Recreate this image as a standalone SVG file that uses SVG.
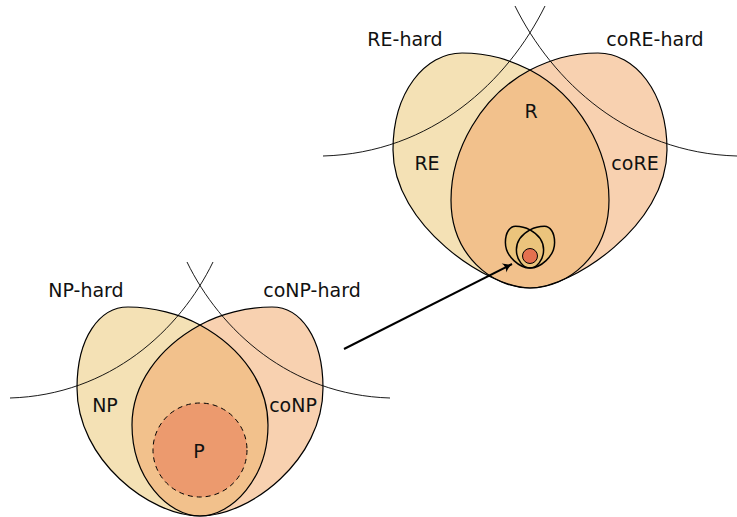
<svg xmlns="http://www.w3.org/2000/svg" width="737" height="517" viewBox="0 0 737 517">
  <style>
    .lbl { font-family: "DejaVu Sans", "Liberation Sans", sans-serif; font-size: 19px; fill: #111; text-anchor: middle; }
    .edge { fill: none; stroke: #000; stroke-width: 1.2; }
    .hard { fill: none; stroke: #000; stroke-width: 0.9; }
    .left { fill: #f4e1b5; }
    .right { fill: #f8d1b0; }
    .both { fill: #f2c18c; }
  </style>
  <defs>
    <!-- lobe outlines; both lobes of a pair touch at their rounded bottoms -->
    <path id="npLobe" d="M200,516 C150,516 77,460 77,388 C77,337 100,307 128,307 C153,307 180,314 200,325 C242,348 268,385 268,425 C268,478 232,516 200,516 Z"/>
    <path id="conpLobe" d="M200,516 C250,516 323,460 323,388 C323,337 300,307 272,307 C247,307 220,314 200,325 C158,348 132,385 132,425 C132,478 168,516 200,516 Z"/>
    <path id="reLobe" d="M530,288 C488,288 393,225 393,150 C393,92 425,53 462,53 C490,53 510,60 530,70 C579,96 609,150 609,200 C609,255 568,288 530,288 Z"/>
    <path id="coreLobe" d="M530,288 C572,288 667,225 667,150 C667,92 635,53 598,53 C570,53 550,60 530,70 C481,96 451,150 451,200 C451,255 492,288 530,288 Z"/>
    <clipPath id="clipNP"><use href="#npLobe"/></clipPath>
    <clipPath id="clipRE"><use href="#reLobe"/></clipPath>
    <marker id="arrowHead" viewBox="-10 -6 12 12" refX="0" refY="0" markerWidth="12" markerHeight="12" markerUnits="userSpaceOnUse" orient="auto">
      <path d="M-9,-5 Q-4,-1 0,0 Q-4,1 -9,5 Q-6,0 -9,-5 Z" fill="#000"/>
    </marker>
  </defs>

  <!-- NP / coNP diagram -->
  <g id="np-conp">
    <use href="#npLobe" class="left"/>
    <use href="#conpLobe" class="right"/>
    <use href="#conpLobe" class="both" clip-path="url(#clipNP)"/>
    <use href="#npLobe" class="edge"/>
    <use href="#conpLobe" class="edge"/>
  </g>
  <g id="p">
    <circle cx="200" cy="450" r="47" fill="#ec9a6e" stroke="#000" stroke-width="1" stroke-dasharray="5,4"/>
    <text class="lbl" x="199" y="458">P</text>
  </g>
  <g id="np-hard">
    <path class="hard" d="M10,398 C110,395 180,330 213,262"/>
    <text class="lbl" x="86" y="297">NP-hard</text>
  </g>
  <g id="conp-hard">
    <path class="hard" d="M390,398 C290,395 220,330 187,262"/>
    <text class="lbl" x="312" y="297">coNP-hard</text>
  </g>
  <g id="np-label"><text class="lbl" x="105" y="412">NP</text></g>
  <g id="conp-label"><text class="lbl" x="293" y="412">coNP</text></g>

  <!-- RE / coRE diagram -->
  <g id="re-core">
    <use href="#reLobe" class="left"/>
    <use href="#coreLobe" class="right"/>
    <use href="#coreLobe" class="both" clip-path="url(#clipRE)"/>
    <use href="#reLobe" class="edge"/>
    <use href="#coreLobe" class="edge"/>
  </g>
  <g id="re-hard">
    <path class="hard" d="M323,156 C432,153 508,81 545,6"/>
    <text class="lbl" x="405" y="46">RE-hard</text>
  </g>
  <g id="core-hard">
    <path class="hard" d="M737,156 C628,153 552,81 515,6"/>
    <text class="lbl" x="655" y="46">coRE-hard</text>
  </g>
  <g id="r-label"><text class="lbl" x="531" y="118">R</text></g>
  <g id="re-label"><text class="lbl" x="427" y="170">RE</text></g>
  <g id="core-label"><text class="lbl" x="635" y="170">coRE</text></g>

  <!-- miniature copy of the NP / coNP picture inside R -->
  <g id="mini">
    <g transform="translate(530,268) scale(0.2) translate(-200,-516)">
      <use href="#npLobe" fill="#ebc47c"/>
      <use href="#conpLobe" fill="#ebc47c"/>
      <use href="#npLobe" fill="none" stroke="#000" stroke-width="7.5"/>
      <use href="#conpLobe" fill="none" stroke="#000" stroke-width="7.5"/>
    </g>
    <circle cx="530" cy="256" r="7.5" fill="#e4704f" stroke="#000" stroke-width="1"/>
  </g>

  <!-- connector -->
  <g id="connectors">
    <line x1="344" y1="349" x2="512" y2="264" stroke="#000" stroke-width="2" marker-end="url(#arrowHead)"/>
  </g>
</svg>
